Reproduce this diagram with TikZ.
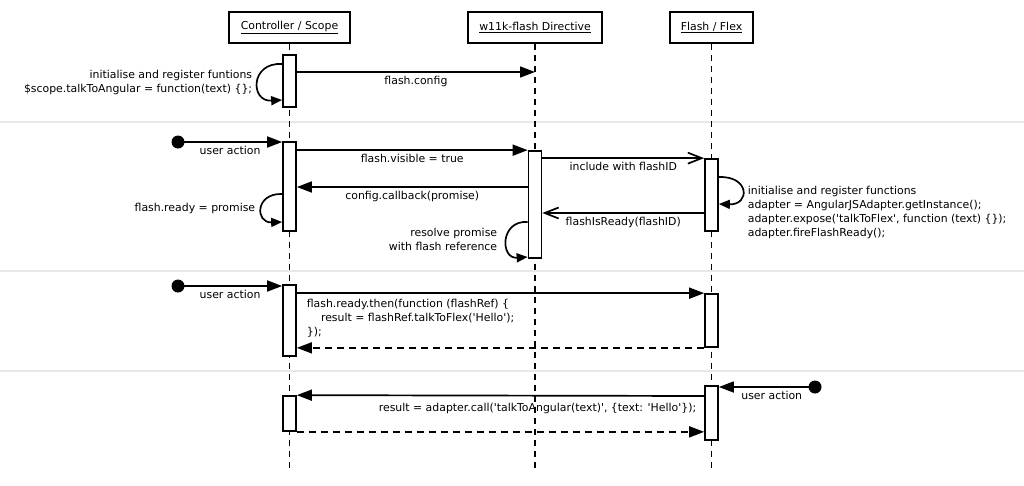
\documentclass[tikz,border=0pt]{standalone}
\usepackage{fontspec}
\setmainfont{DejaVu Sans}[Ligatures=TeXOff]
\usetikzlibrary{arrows.meta}

\begin{document}
\begin{tikzpicture}[x=1pt, y=-1pt, line width=1.7pt,
  font=\fontsize{10.9}{14}\selectfont,
  head/.style={draw, fill=white, minimum height=31pt, inner sep=0pt},
  life/.style={line width=1.4pt, dash pattern=on 6pt off 5pt},
  act/.style={draw, fill=white, minimum width=13pt, inner sep=0pt},
  sep/.style={line width=1.5pt, gray!18},
  msg/.style={-{Triangle[length=15pt,width=11pt]}},
  async/.style={-{Straight Barb[length=14pt,width=11pt]}},
  ret/.style={msg, dash pattern=on 7pt off 5pt},
  selfcall/.style={-{Triangle[length=11pt,width=9pt]}},
  lbl/.style={inner sep=0pt}]
\useasboundingbox (0,0) rectangle (1024,485);

\draw[sep] (0,122) -- (1024,122);
\draw[sep] (0,271) -- (1024,271);
\draw[sep] (0,371) -- (1024,371);

\node[head, minimum width=121pt] (ctrl) at (289.5,27.5) {\underline{Controller / Scope}};
\node[head, minimum width=134pt] (dir) at (535,27.5) {\underline{w11k-flash Directive}};
\node[head, minimum width=83pt] (flex) at (711.5,27.5) {\underline{Flash / Flex}};

\path (289.5,470) coordinate (ctrlend);
\path (535,470) coordinate (dirend);
\path (711.5,470) coordinate (flexend);
\draw[life] (ctrl) -- (ctrlend);
\draw[life] (dir) -- (dirend);
\draw[life] (flex) -- (flexend);

\node[act, minimum height=52pt] (c1) at (289.5,81) {};
\path (535,72) coordinate (d1);
\draw[msg] (c1.east |- d1) -- (d1) node[midway, below] (cfg) {flash.config};
\draw[selfcall] (c1.west |- 0,64) .. controls (250,62) and (250,102) .. (c1.west |- 0,100);
\node[lbl, anchor=east, align=right] (init) at (253,82) {initialise and register funtions\\\$scope.talkToAngular = function(text) \{\};};

\path (178,142) coordinate (u2);
\fill (u2) circle (6.5pt);
\node[act, minimum height=89pt] (c2) at (289.5,186.5) {};
\node[act, minimum height=107pt] (d2) at (535,204.5) {};
\node[act, minimum height=72pt] (f2) at (711.5,195) {};
\draw[msg] (u2) -- (c2.west |- u2) node[midway, below] (ua2) {user action};
\draw[msg] (c2.east |- d2.north) -- (d2.north west) node[midway, below] (vis) {flash.visible = true};
\draw[msg] (d2.west |- 0,187) -- (c2.east |- 0,187) node[midway, below] (cb) {config.callback(promise)};
\draw[selfcall] (c2.west |- 0,194) .. controls (255,193) and (255,223) .. (c2.west |- 0,222);
\node[lbl, anchor=east] (ready) at (256,208) {flash.ready = promise};
\draw[async] (d2.east |- f2.north) -- (f2.north west) node[midway, below] (incl) {include with flashID};
\draw[selfcall] (f2.east |- 0,177) .. controls (750,176) and (750,205) .. (f2.east |- 0,204);
\node[lbl, anchor=west, align=left] (adapt) at (747,212) {initialise and register functions\\adapter = AngularJSAdapter.getInstance();\\adapter.expose('talkToFlex', function (text) \{\});\\adapter.fireFlashReady();};
\draw[async] (f2.west |- 0,213) -- (d2.east |- 0,213) node[midway, below] (isready) {flashIsReady(flashID)};
\draw[selfcall] (d2.west |- 0,222) .. controls (500,220) and (500,259) .. (d2.west |- 0,257);
\node[lbl, anchor=east, align=right] (resolve) at (498,239) {resolve promise\\with flash reference};

\path (178,286) coordinate (u3);
\fill (u3) circle (6.5pt);
\node[act, minimum height=71pt] (c3) at (289.5,320.5) {};
\node[act, minimum height=53pt] (f3) at (711.5,320.5) {};
\draw[msg] (u3) -- (c3.west |- u3) node[midway, below] (ua3) {user action};
\draw[msg] (c3.east |- f3.north) -- (f3.north west);
\node[lbl, anchor=west, align=left] (then) at (306,318.5) {flash.ready.then(function (flashRef) \{\\\hspace*{1.3em}result = flashRef.talkToFlex('Hello');\\\});};
\draw[ret] (f3.south west) -- (c3.east |- f3.south);

\path (815,387) coordinate (u4);
\fill (u4) circle (6.5pt);
\node[act, minimum height=54pt] (f4) at (711.5,413) {};
\node[act, minimum height=35pt] (c4) at (289.5,413.5) {};
\draw[msg] (u4) -- (f4.east |- u4) node[pos=0.45, below] (ua4) {user action};
\draw[msg] (f4.west |- 0,396) -- (c4.north east);
\node[lbl, anchor=east] (call) at (697,408) {result = adapter.call('talkToAngular(text)', \{text: 'Hello'\});};
\draw[ret] (c4.south east) -- (f4.west |- c4.south);
\end{tikzpicture}
\end{document}
